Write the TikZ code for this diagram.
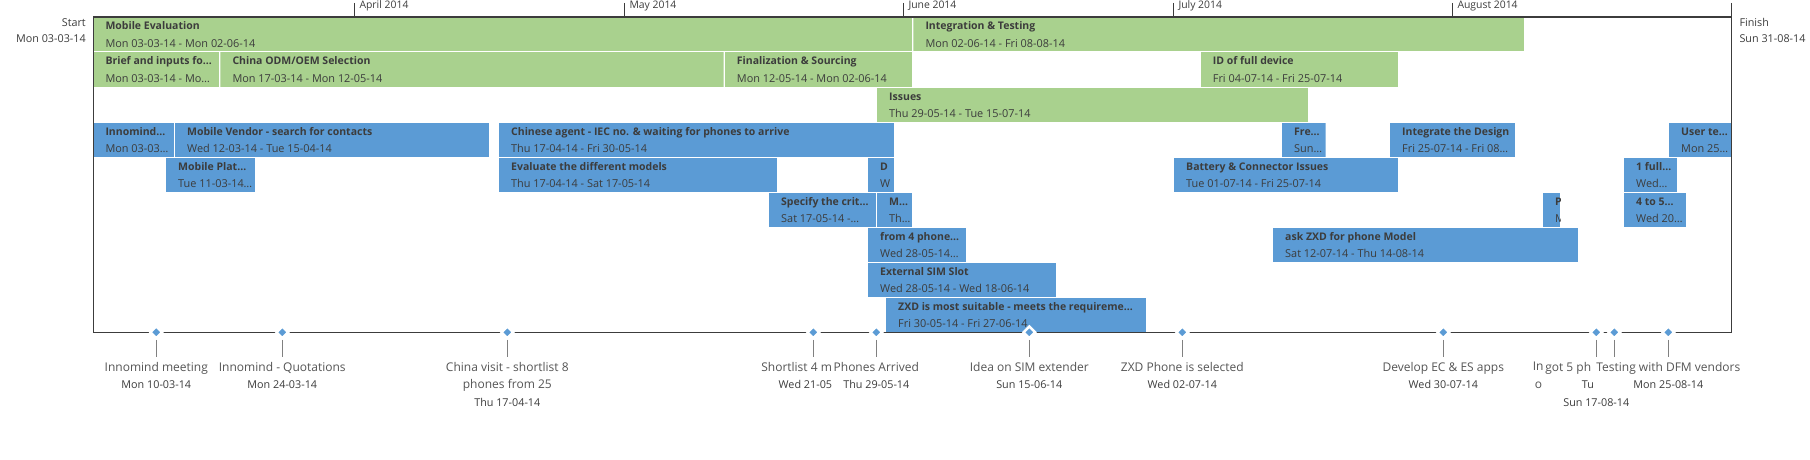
\documentclass[tikz,border=0pt]{standalone}
\usepackage{fontspec}
\setmainfont{Open Sans}
\usepackage{tikz}
\usetikzlibrary{shapes.geometric}
\usepackage{xcolor}

\definecolor{barGreen}{HTML}{A9D18E}
\definecolor{barBlue}{HTML}{5B9BD5}
\definecolor{inkDark}{HTML}{3C3C3C}
\definecolor{inkGrey}{HTML}{555555}
\definecolor{tickGrey}{HTML}{808080}
\newcommand{\msdate}[1]{{\fontsize{10.8}{17.8}\selectfont\color{inkDark}#1}}

\begin{document}
\begin{tikzpicture}[x=1pt, y=-1pt,
    tasktitle/.style={anchor=base west, inner sep=0pt, text=inkDark, font=\bfseries\fontsize{10.5}{12}\selectfont},
    taskdate/.style={anchor=base west, inner sep=0pt, text=inkDark, font=\fontsize{10.9}{12}\selectfont},
    mstone/.style={diamond, fill=barBlue, draw=white, line width=2.4pt, inner sep=0pt, minimum size=12.6pt},
    mlabel/.style={anchor=north, fill=white, inner sep=2pt, align=center, text=inkGrey, font=\fontsize{12}{17.8}\selectfont},
    mtick/.style={tickGrey, line width=0.8pt},
    axisline/.style={inkDark, line width=1.3pt},
    edgelbl/.style={inner sep=0pt, text=inkDark, font=\fontsize{10.8}{12}\selectfont},
    monthlbl/.style={anchor=base west, inner sep=0pt, text=inkDark, font=\fontsize{10.4}{12}\selectfont}]
  \useasboundingbox (0,0) rectangle (1810,460);

  % task bars, one row every 35px
  \foreach \n/\xa/\xb/\r/\c/\t/\d in {
    me/93.3/912.3/1/barGreen/{Mobile Evaluation}/{Mon 03-03-14 - Mon 02-06-14},
    it/913.3/1524/1/barGreen/{Integration \& Testing}/{Mon 02-06-14 - Fri 08-08-14},
    bi/93.3/219.3/2/barGreen/{Brief and inputs fo…}/{Mon 03-03-14 - Mo…},
    co/220.3/723.7/2/barGreen/{China ODM/OEM Selection}/{Mon 17-03-14 - Mon 12-05-14},
    fs/724.7/912.3/2/barGreen/{Finalization \& Sourcing}/{Mon 12-05-14 - Mon 02-06-14},
    id/1200.7/1398/2/barGreen/{ID of full device}/{Fri 04-07-14 - Fri 25-07-14},
    is/877/1308/3/barGreen/{Issues}/{Thu 29-05-14 - Tue 15-07-14},
    in/93.3/174/4/barBlue/{Innomind…}/{Mon 03-03…},
    mv/175/489/4/barBlue/{Mobile Vendor - search for contacts}/{Wed 12-03-14 - Tue 15-04-14},
    ca/499/894/4/barBlue/{Chinese agent - IEC no. \& waiting for phones to arrive}/{Thu 17-04-14 - Fri 30-05-14},
    fr/1282/1325.7/4/barBlue/{Fre…}/{Sun…},
    ig/1390/1515/4/barBlue/{Integrate the Design}/{Fri 25-07-14 - Fri 08…},
    ut/1669/1732/4/barBlue/{User te…}/{Mon 25…},
    mp/166/255/5/barBlue/{Mobile Plat…}/{Tue 11-03-14…},
    ed/499/777/5/barBlue/{Evaluate the different models}/{Thu 17-04-14 - Sat 17-05-14},
    dd/868/894/5/barBlue/{D}/{W},
    bc/1174/1398/5/barBlue/{Battery \& Connector Issues}/{Tue 01-07-14 - Fri 25-07-14},
    ff/1624/1677/5/barBlue/{1 full…}/{Wed…},
    sc/769/876/6/barBlue/{Specify the crit…}/{Sat 17-05-14 -…},
    mm/877/912/6/barBlue/{M…}/{Th…},
    pp/1543/1560/6/barBlue/{P}/{M},
    ft/1624/1686/6/barBlue/{4 to 5…}/{Wed 20…},
    fp/868/966/7/barBlue/{from 4 phone…}/{Wed 28-05-14…},
    az/1273/1578/7/barBlue/{ask ZXD for phone Model}/{Sat 12-07-14 - Thu 14-08-14},
    es/868/1056/8/barBlue/{External SIM Slot}/{Wed 28-05-14 - Wed 18-06-14},
    zx/886/1146/9/barBlue/{ZXD is most suitable - meets the requireme…}/{Fri 30-05-14 - Fri 27-06-14}%
  }{
    \begin{scope}
      \clip (\xa,{17.5+35*(\r-1)}) rectangle (\xb,{51.5+35*(\r-1)});
      \fill[\c] (\xa,{17.5+35*(\r-1)}) rectangle (\xb,{51.5+35*(\r-1)});
      \node[tasktitle] (t\n) at (\xa+12,{30.0+35*(\r-1)}) {\t};
      \node[taskdate] (d\n) at (\xa+12,{47.1+35*(\r-1)}) {\d};
    \end{scope}
  }

  % frame of the time scale
  \coordinate (start) at (93.3,17);
  \coordinate (finish) at (1731.7,3);
  \draw[axisline] (93.3,332.3) -- (start) -- (1731.7,17);
  \draw[axisline] (finish) -- (1731.7,332.3) -- (93.3,332.3);
  \node[edgelbl, anchor=base east] (startlbl) at (86,26.2) {Start};
  \node[edgelbl, anchor=base east] (startdate) at (86,43) {Mon 03-03-14};
  \node[edgelbl, anchor=base west] (finishlbl) at (1739.3,26.2) {Finish};
  \node[edgelbl, anchor=base west] (finishdate) at (1739.3,43) {Sun 31-08-14};

  % months
  \foreach \x/\m in {354.3/April, 624.3/May, 903.3/June, 1173.3/July, 1452.3/August} {
    \coordinate (tick\m) at (\x,3);
    \draw[inkDark, line width=0.8pt] (tick\m) -- (\x,17);
    \node[monthlbl] (lbl\m) at (\x+5,8.8) {\m\ 2014};
  }

  % milestones
  \foreach \n/\x/\t/\d in {
    1/156.3/{Innomind meeting}/{Mon 10-03-14},
    2/282.3/{Innomind - Quotations}/{Mon 24-03-14},
    3/507.3/{China visit - shortlist 8\\phones from 25}/{Thu 17-04-14},
    4/813.3/{\makebox[104pt][l]{Shortlist 4 m}}/{Wed 21-05-14},
    5/876.3/{Phones Arrived}/{Thu 29-05-14},
    6/1029.3/{Idea on SIM extender}/{Sun 15-06-14},
    7/1182.3/{ZXD Phone is selected}/{Wed 02-07-14},
    8/1443.3/{Develop EC \& ES apps}/{Wed 30-07-14},
    9/1596.3/{\makebox[127pt][l]{In}\\\makebox[123pt][l]{o}}/{Sun 17-08-14},
    10/1614.3/{\makebox[138pt][l]{got 5 ph}}/{Tue 19-08-14},
    11/1668.3/{Testing with DFM vendors}/{Mon 25-08-14}%
  }{
    \node[mstone] (m\n) at (\x,332.3) {};
    \node[mlabel] (l\n) at (\x,359.8) {\t\\\msdate{\d}};
    \draw[mtick, shorten >=3pt] (m\n.south) -- (l\n.north);
  }
\end{tikzpicture}
\end{document}
